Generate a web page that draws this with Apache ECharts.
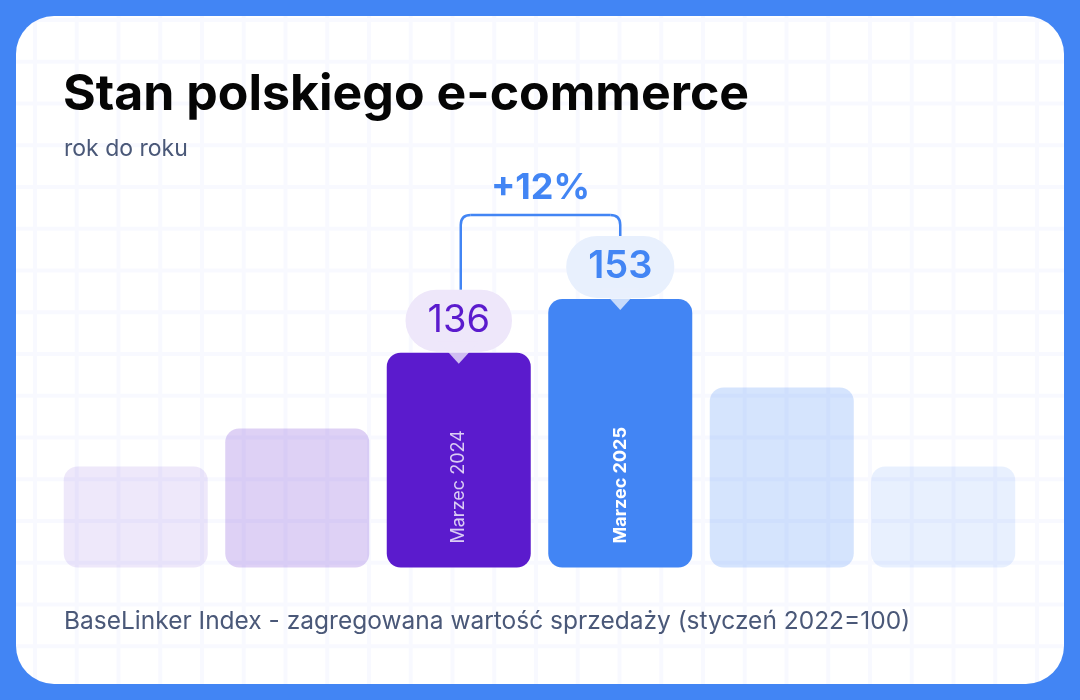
<!DOCTYPE html>
<html>
<head>
<meta charset="utf-8">
<script src="https://cdn.jsdelivr.net/npm/echarts@6/dist/echarts.min.js"></script>
<style>
  html, body { margin: 0; padding: 0; background: #4285F4; }
  #card {
    position: absolute; left: 16px; top: 16px; width: 1048px; height: 668px;
    border-radius: 38px; background-color: #fff;
    background-image:
      linear-gradient(90deg, #F8F9FF 4px, transparent 4px),
      linear-gradient(180deg, #F8F9FF 4px, transparent 4px);
    background-size: 41.75px 41.75px;
    background-position: 17px 2px;
  }
  #chart { position: absolute; left: 0; top: 0; width: 1080px; height: 700px; }
</style>
</head>
<body>
<div id="card"></div>
<div id="chart"></div>
<script>
var categories = ['1', '2', 'Marzec 2024', 'Marzec 2025', '5', '6'];
var barLabels = ['', '', 'Marzec 2024', 'Marzec 2025', '', ''];
var values = [100, 112, 136, 153, 125, 100];
var barColors = ['rgba(91,27,205,0.1)', 'rgba(91,27,205,0.2)', '#5B1BCD', '#4285F4', 'rgba(66,133,244,0.22)', 'rgba(66,133,244,0.12)'];
var highlight = [2, 3];          // slupki z dymkami
var changeText = '+12%';

var titleText = 'Stan polskiego e-commerce';
var subtitleText = 'rok do roku';
var footerText = 'BaseLinker Index - zagregowana wartość sprzedaży (styczeń 2022=100)';

var FONT = 'Inter';
var bubbleStyle = {
  2: { color: '#5B1BCD', bg: '#EEE7FA', weight: 400 },
  3: { color: '#4285F4', bg: '#E8F0FD', weight: 600 }
};

var chart = echarts.init(document.getElementById('chart'), null, { renderer: 'canvas' });

var barData = values.map(function (v, i) {
  var item = { value: v, itemStyle: { color: barColors[i] } };
  if (barLabels[i]) {
    item.label = {
      show: true,
      formatter: barLabels[i],
      color: i === 3 ? '#ffffff' : 'rgba(255,255,255,0.78)',
      fontWeight: i === 3 ? 700 : 400
    };
  }
  return item;
});

var bubbleData = values.map(function (v, i) {
  if (highlight.indexOf(i) < 0) return '-';
  var s = bubbleStyle[i];
  return {
    value: v,
    label: {
      show: true,
      color: s.color,
      fontWeight: s.weight,
      backgroundColor: s.bg
    }
  };
});

var pointerData = highlight.map(function (i) {
  return { value: [categories[i], values[i]], itemStyle: { color: bubbleStyle[i].bg } };
});

option = {
  animation: false,
  title: [
    { text: titleText, left: 63, top: 70, padding: 0, textStyle: { fontFamily: FONT, fontSize: 50, fontWeight: 700, color: '#050505' } },
    { text: subtitleText, left: 64, top: 138, padding: 0, textStyle: { fontFamily: FONT, fontSize: 23, fontWeight: 400, color: '#4A5878' } },
    { text: footerText, left: 64, top: 609, padding: 0, textStyle: { fontFamily: FONT, fontSize: 24.5, fontWeight: 400, color: '#4A5878' } }
  ],
  grid: { left: 55, right: 56, top: 150.5, bottom: 132.5 },
  xAxis: {
    type: 'category',
    data: categories,
    axisLine: { show: false },
    axisTick: { show: false },
    axisLabel: { show: false }
  },
  yAxis: {
    type: 'value',
    min: 68,
    max: 200,
    show: false,
    splitLine: { show: false }
  },
  series: [
    {
      type: 'bar',
      data: barData,
      barWidth: 144,
      itemStyle: { borderRadius: 14 },
      label: {
        show: false,
        position: 'insideBottom',
        distance: 24,
        rotate: 90,
        align: 'left',
        verticalAlign: 'middle',
        fontFamily: FONT,
        fontSize: 18
      },
      z: 2
    },
    {
      // przezroczysta nakladka niosaca dymki z wartosciami
      type: 'bar',
      data: bubbleData,
      barWidth: 144,
      barGap: '-100%',
      itemStyle: { color: 'transparent' },
      label: {
        show: false,
        position: 'top',
        distance: 1,
        fontFamily: FONT,
        fontSize: 38,
        lineHeight: 38,
        padding: [12, 22],
        borderRadius: 31
      },
      z: 4
    },
    {
      // dziobek dymka
      type: 'scatter',
      data: pointerData,
      symbol: 'triangle',
      symbolRotate: 180,
      symbolSize: [40, 22],
      silent: true,
      z: 5
    }
  ]
};

chart.setOption(option);

// klamra z procentem miedzy dwoma wyroznionymi slupkami
var bubbleH = 62 + 1;
var pA = chart.convertToPixel({ seriesIndex: 0 }, [highlight[0], values[highlight[0]]]);
var pB = chart.convertToPixel({ seriesIndex: 0 }, [highlight[1], values[highlight[1]]]);
var x1 = pA[0] + 2, y1 = pA[1] - bubbleH;
var x2 = pB[0], y2 = pB[1] - bubbleH;
var yt = y2 - 21, r = 10;
var stroke = { stroke: '#4285F4', lineWidth: 2.5, fill: null };

chart.setOption({
  graphic: [
    { type: 'line', shape: { x1: x1, y1: y1, x2: x1, y2: yt + r }, style: stroke, z: 10 },
    { type: 'bezierCurve', shape: { x1: x1, y1: yt + r, x2: x1 + r, y2: yt, cpx1: x1, cpy1: yt }, style: stroke, z: 10 },
    { type: 'line', shape: { x1: x1 + r, y1: yt, x2: x2 - r, y2: yt }, style: stroke, z: 10 },
    { type: 'bezierCurve', shape: { x1: x2 - r, y1: yt, x2: x2, y2: yt + r, cpx1: x2, cpy1: yt }, style: stroke, z: 10 },
    { type: 'line', shape: { x1: x2, y1: yt + r, x2: x2, y2: y2 }, style: stroke, z: 10 },
    {
      type: 'text',
      x: (x1 + x2) / 2,
      y: yt - 27,
      style: {
        text: changeText,
        align: 'center',
        verticalAlign: 'middle',
        fill: '#4285F4',
        font: '700 36px ' + FONT
      },
      z: 10
    }
  ]
});
</script>
</body>
</html>
